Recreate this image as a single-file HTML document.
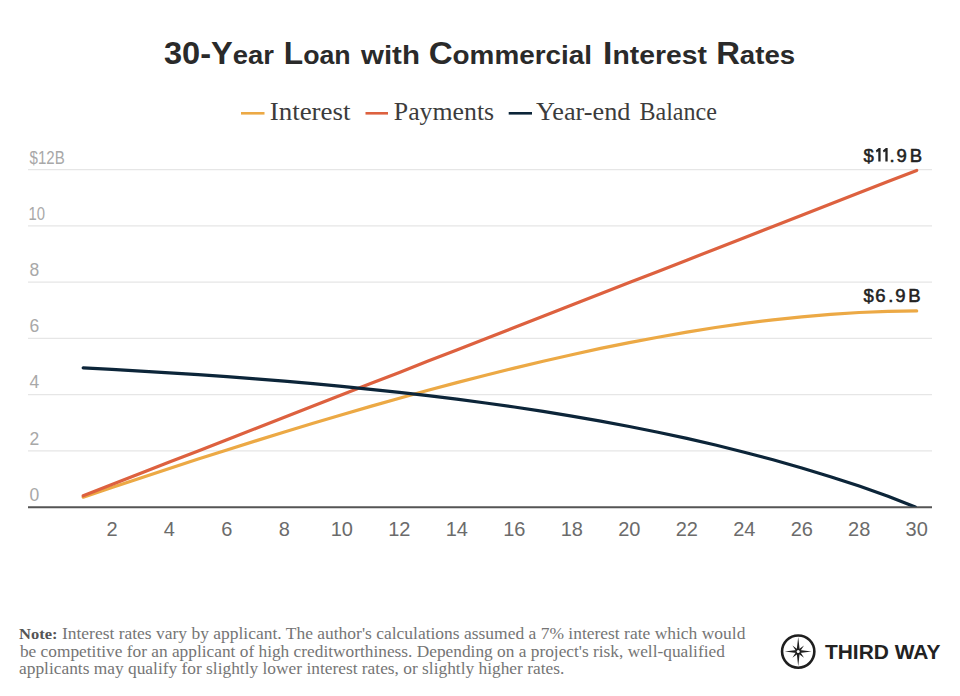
<!DOCTYPE html>
<html><head><meta charset="utf-8">
<style>
html,body{margin:0;padding:0;background:#fff;width:960px;height:696px;overflow:hidden}
svg{display:block}
.sans{font-family:"Liberation Sans",sans-serif}
.serif{font-family:"Liberation Serif",serif}
</style></head><body>
<svg width="960" height="696" viewBox="0 0 960 696">
<text class="sans" x="164.00" y="63.60" font-size="31.5" fill="#2a2a2a" font-weight="bold" textLength="109.98" lengthAdjust="spacingAndGlyphs">30-Y<tspan font-size="26.5">ear</tspan></text>
<text class="sans" x="283.78" y="63.60" font-size="31.5" fill="#2a2a2a" font-weight="bold" textLength="66.91" lengthAdjust="spacingAndGlyphs">L<tspan font-size="26.5">oan</tspan></text>
<text class="sans" x="361.00" y="63.60" font-size="31.5" fill="#2a2a2a" font-weight="bold" textLength="58.90" lengthAdjust="spacingAndGlyphs"><tspan font-size="26.5">with</tspan></text>
<text class="sans" x="428.68" y="63.60" font-size="31.5" fill="#2a2a2a" font-weight="bold" textLength="163.33" lengthAdjust="spacingAndGlyphs">C<tspan font-size="26.5">ommercial</tspan></text>
<text class="sans" x="603.04" y="63.60" font-size="31.5" fill="#2a2a2a" font-weight="bold" textLength="103.80" lengthAdjust="spacingAndGlyphs">I<tspan font-size="26.5">nterest</tspan></text>
<text class="sans" x="716.15" y="63.60" font-size="31.5" fill="#2a2a2a" font-weight="bold" textLength="78.96" lengthAdjust="spacingAndGlyphs">R<tspan font-size="26.5">ates</tspan></text>
<rect x="241" y="112.0" width="23.5" height="2.6" fill="#eca945"/>
<rect x="365.5" y="112.0" width="22.5" height="2.6" fill="#dd613f"/>
<rect x="508.7" y="112.0" width="23.3" height="2.6" fill="#0c2539"/>
<text class="serif" x="269.68" y="119.80" font-size="24.5" fill="#3c3c3c" textLength="80.90" lengthAdjust="spacingAndGlyphs">Interest</text>
<text class="serif" x="393.84" y="119.80" font-size="24.5" fill="#3c3c3c" textLength="100.27" lengthAdjust="spacingAndGlyphs">Payments</text>
<text class="serif" x="535.95" y="119.80" font-size="24.5" fill="#3c3c3c" textLength="94.47" lengthAdjust="spacingAndGlyphs">Year-end</text>
<text class="serif" x="639.42" y="119.80" font-size="24.5" fill="#3c3c3c" textLength="77.53" lengthAdjust="spacingAndGlyphs">Balance</text>
<g stroke="#e6e6e6" stroke-width="1.3"><line x1="28" y1="169.70" x2="932" y2="169.70"/><line x1="28" y1="225.92" x2="932" y2="225.92"/><line x1="28" y1="282.14" x2="932" y2="282.14"/><line x1="28" y1="338.35" x2="932" y2="338.35"/><line x1="28" y1="394.57" x2="932" y2="394.57"/><line x1="28" y1="450.78" x2="932" y2="450.78"/></g>
<text class="sans" x="29.59" y="163.50" font-size="17.5" fill="#a8a8a8" textLength="35.11" lengthAdjust="spacingAndGlyphs">$12B</text>
<text class="sans" x="28.60" y="219.72" font-size="17.5" fill="#a8a8a8" textLength="16.53" lengthAdjust="spacingAndGlyphs">10</text>
<text class="sans" x="29.50" y="275.94" font-size="17.5" fill="#a8a8a8">8</text>
<text class="sans" x="29.50" y="332.15" font-size="17.5" fill="#a8a8a8">6</text>
<text class="sans" x="29.50" y="388.37" font-size="17.5" fill="#a8a8a8">4</text>
<text class="sans" x="29.50" y="444.58" font-size="17.5" fill="#a8a8a8">2</text>
<text class="sans" x="29.50" y="500.80" font-size="17.5" fill="#a8a8a8">0</text>
<text class="sans" x="111.94" y="536.00" font-size="20" fill="#6b6b6b" text-anchor="middle">2</text>
<text class="sans" x="169.43" y="536.00" font-size="20" fill="#6b6b6b" text-anchor="middle">4</text>
<text class="sans" x="226.91" y="536.00" font-size="20" fill="#6b6b6b" text-anchor="middle">6</text>
<text class="sans" x="284.39" y="536.00" font-size="20" fill="#6b6b6b" text-anchor="middle">8</text>
<text class="sans" x="341.88" y="536.00" font-size="20" fill="#6b6b6b" text-anchor="middle">10</text>
<text class="sans" x="399.36" y="536.00" font-size="20" fill="#6b6b6b" text-anchor="middle">12</text>
<text class="sans" x="456.85" y="536.00" font-size="20" fill="#6b6b6b" text-anchor="middle">14</text>
<text class="sans" x="514.33" y="536.00" font-size="20" fill="#6b6b6b" text-anchor="middle">16</text>
<text class="sans" x="571.81" y="536.00" font-size="20" fill="#6b6b6b" text-anchor="middle">18</text>
<text class="sans" x="629.30" y="536.00" font-size="20" fill="#6b6b6b" text-anchor="middle">20</text>
<text class="sans" x="686.78" y="536.00" font-size="20" fill="#6b6b6b" text-anchor="middle">22</text>
<text class="sans" x="744.27" y="536.00" font-size="20" fill="#6b6b6b" text-anchor="middle">24</text>
<text class="sans" x="801.75" y="536.00" font-size="20" fill="#6b6b6b" text-anchor="middle">26</text>
<text class="sans" x="859.23" y="536.00" font-size="20" fill="#6b6b6b" text-anchor="middle">28</text>
<text class="sans" x="916.72" y="536.00" font-size="20" fill="#6b6b6b" text-anchor="middle">30</text>
<line x1="28" y1="507.25" x2="932" y2="507.25" stroke="#555" stroke-width="2"/>
<defs><clipPath id="cp"><rect x="0" y="0" width="960" height="506.8"/></clipPath></defs>
<g fill="none" stroke-width="3.2" stroke-linecap="round" stroke-linejoin="round" clip-path="url(#cp)">
<polyline stroke="#eca945" points="83.2,497.2 111.9,487.5 140.7,477.9 169.4,468.5 198.2,459.1 226.9,450.0 255.7,440.9 284.4,432.0 313.1,423.3 341.9,414.7 370.6,406.4 399.4,398.2 428.1,390.3 456.8,382.6 485.6,375.2 514.3,368.1 543.1,361.2 571.8,354.7 600.6,348.4 629.3,342.6 658.0,337.2 686.8,332.1 715.5,327.5 744.3,323.4 773.0,319.8 801.8,316.8 830.5,314.3 859.2,312.5 888.0,311.3 916.7,310.9"/>
<polyline stroke="#dd613f" points="83.2,495.8 111.9,484.6 140.7,473.3 169.4,462.1 198.2,450.9 226.9,439.7 255.7,428.5 284.4,417.2 313.1,406.0 341.9,394.8 370.6,383.6 399.4,372.4 428.1,361.1 456.8,349.9 485.6,338.7 514.3,327.5 543.1,316.3 571.8,305.0 600.6,293.8 629.3,282.6 658.0,271.4 686.8,260.2 715.5,248.9 744.3,237.7 773.0,226.5 801.8,215.3 830.5,204.1 859.2,192.8 888.0,181.6 916.7,170.4"/>
<polyline stroke="#0c2539" points="83.2,367.9 111.9,369.4 140.7,371.1 169.4,372.8 198.2,374.7 226.9,376.7 255.7,378.9 284.4,381.2 313.1,383.7 341.9,386.4 370.6,389.3 399.4,392.3 428.1,395.6 456.8,399.2 485.6,403.0 514.3,407.0 543.1,411.4 571.8,416.1 600.6,421.1 629.3,426.5 658.0,432.2 686.8,438.4 715.5,445.0 744.3,452.2 773.0,459.8 801.8,468.0 830.5,476.7 859.2,486.1 888.0,496.2 915.3,507.0"/>
</g>
<g stroke="#222" stroke-width="0.55">
<text class="sans" x="863.4" y="161.5" font-size="18.5" fill="#222">$</text>
<text class="sans" x="889.5" y="161.5" font-size="18.5" fill="#222">.</text>
<text class="sans" x="896.5" y="161.5" font-size="18.5" fill="#222">9</text>
<text class="sans" x="909.8" y="161.5" font-size="18.5" fill="#222">B</text>
<polygon fill="#222" stroke="none" points="875.80,150.50 878.80,148.00 880.60,148.00 880.60,161.50 878.30,161.50 878.30,151.30 876.70,152.50"/>
<polygon fill="#222" stroke="none" points="882.85,150.50 885.85,148.00 887.65,148.00 887.65,161.50 885.35,161.50 885.35,151.30 883.75,152.50"/>
<text class="sans" x="863.4" y="302.4" font-size="18.5" fill="#222">$</text>
<text class="sans" x="875.2" y="302.4" font-size="18.5" fill="#222">6</text>
<text class="sans" x="888.3" y="302.4" font-size="18.5" fill="#222">.</text>
<text class="sans" x="895.25" y="302.4" font-size="18.5" fill="#222">9</text>
<text class="sans" x="908.35" y="302.4" font-size="18.5" fill="#222">B</text>
</g>
<text class="serif" x="19.05" y="639.00" font-size="16.5" fill="#757575" textLength="726.32" lengthAdjust="spacingAndGlyphs"><tspan font-weight="bold" font-size="15.6" fill="#555">Note:</tspan> Interest rates vary by applicant. The author's calculations assumed a 7% interest rate which would</text>
<text class="serif" x="19.95" y="656.70" font-size="16.5" fill="#757575" textLength="704.89" lengthAdjust="spacingAndGlyphs">be competitive for an applicant of high creditworthiness. Depending on a project's risk, well-qualified</text>
<text class="serif" x="19.05" y="673.60" font-size="16.5" fill="#757575" textLength="545.27" lengthAdjust="spacingAndGlyphs">applicants may qualify for slightly lower interest rates, or slightly higher rates.</text>
<g transform="translate(798.2,651.6)">
<circle r="16.15" fill="none" stroke="#1f1f1f" stroke-width="2.6"/>
<path d="M0,-14.6 L1.5,-1.5 L13.4,0 L1.5,1.5 L0,14.6 L-1.5,1.5 L-13.4,0 L-1.5,-1.5 Z" fill="#1f1f1f"/>
<path d="M5.8,-6.2 L1.8,0 L5.8,6.2 L0,1.8 L-5.8,6.2 L-1.8,0 L-5.8,-6.2 L0,-1.8 Z" fill="#1f1f1f"/>
<circle r="1.5" fill="#fff"/>
</g>
<text class="sans" x="825.00" y="659.00" font-size="20" fill="#222" font-weight="bold" textLength="115.42" lengthAdjust="spacingAndGlyphs">THIRD WAY</text>
</svg>
</body></html>
